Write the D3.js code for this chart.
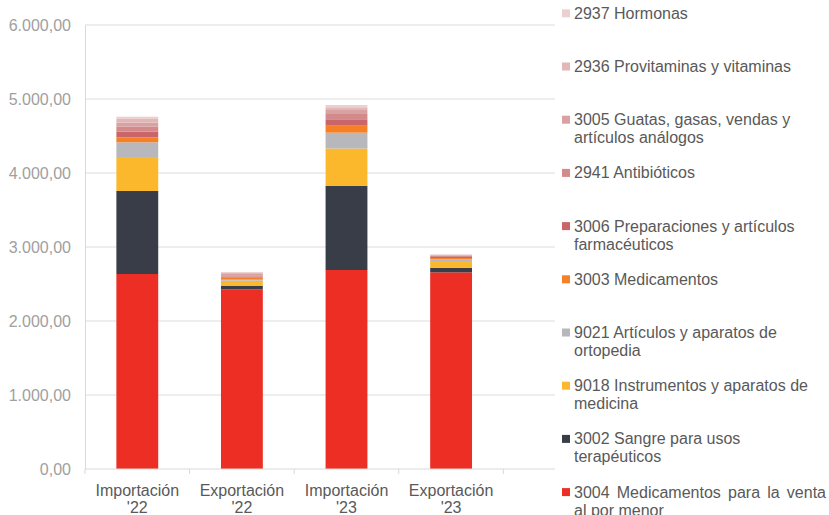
<!DOCTYPE html>
<html>
<head>
<meta charset="utf-8">
<script src="https://cdn.jsdelivr.net/npm/d3@7"></script>
<style>
  body { margin: 0; background: #fff; }
  svg { font-family: "Liberation Sans", Arial, sans-serif; }
</style>
</head>
<body>
<svg id="chart" width="829" height="515"></svg>
<script>
// categories on the x axis (two text lines each)
const categories = ["Importación '22", "Exportación '22", "Importación '23", "Exportación '23"];
const catLines = [["Importación", "'22"], ["Exportación", "'22"], ["Importación", "'23"], ["Exportación", "'23"]];

// series, bottom of the stack first
const seriesKeys = ["3004", "3002", "9018", "9021", "3003", "3006", "2941", "3005", "2936", "2937"];
const seriesColors = ["#ec2e24", "#393d47", "#fbb82c", "#b8b7bc", "#f68026", "#c9666a", "#d28a8a", "#d9a1a1", "#e2b7b7", "#ecd0d0"];

// values per category, same order as seriesKeys
const v3004 = [2635, 2428, 2689, 2658];
const v3002 = [1122, 45, 1139, 62];
const v9018 = [459, 72, 503, 91];
const v9021 = [199, 13, 214, 23];
const v3003 = [67, 33, 94, 17];
const v3006 = [76, 10, 87, 14];
const v2941 = [68, 17, 71, 13];
const v3005 = [54, 18, 54, 10];
const v2936 = [50, 13, 37, 7];
const v2937 = [31, 14, 31, 6];

// legend entries top to bottom, wrapped like the original
const legendOrder = ["2937", "2936", "3005", "2941", "3006", "3003", "9021", "9018", "3002", "3004"];
const legendLines = {
    "2937": ["2937 Hormonas"],
    "2936": ["2936 Provitaminas y vitaminas"],
    "3005": ["3005 Guatas, gasas, vendas y", "artículos análogos"],
    "2941": ["2941 Antibióticos"],
    "3006": ["3006 Preparaciones y artículos", "farmacéuticos"],
    "3003": ["3003 Medicamentos"],
    "9021": ["9021 Artículos y aparatos de", "ortopedia"],
    "9018": ["9018 Instrumentos y aparatos de", "medicina"],
    "3002": ["3002 Sangre para usos", "terapéuticos"],
    "3004": ["3004 Medicamentos para la venta", "al por menor"]
};

const yTicks = [0, 1000, 2000, 3000, 4000, 5000, 6000];

const allValues = [v3004, v3002, v9018, v9021, v3003, v3006, v2941, v3005, v2936, v2937];
const table = categories.map((c, i) => {
    let row = {cat: c};
    seriesKeys.forEach((k, j) => row[k] = allValues[j][i]);
    return row;
});

const svg = d3.select('#chart');
const plotLeft = 85, plotRight = 503.4, plotTop = 25, plotBottom = 469, gridRight = 555;

const x = d3.scaleBand().domain(categories).range([plotLeft, plotRight]).paddingInner(0.6).paddingOuter(0.3);
const y = d3.scaleLinear().domain([0, 6000]).range([plotBottom, plotTop]);
const color = d3.scaleOrdinal().domain(seriesKeys).range(seriesColors);

const fmt = d => {
    let s = d3.format(",.2f")(d);
    return s.replace(/,/g, "#").replace(".", ",").replace(/#/g, ".");
};

// gridlines
svg.append('g')
    .selectAll('line')
    .data(yTicks.filter(d => d > 0))
    .enter().append('line')
    .attr('x1', plotLeft).attr('x2', gridRight)
    .attr('y1', d => y(d)).attr('y2', d => y(d))
    .attr('stroke', '#dcdcdc').attr('stroke-width', 1);

// y axis
const yAxis = svg.append('g')
    .attr('transform', 'translate(' + plotLeft + ',0)')
    .call(d3.axisLeft(y).tickValues(yTicks).tickFormat(fmt).tickSize(0).tickPadding(14));
yAxis.select('.domain').attr('stroke', '#d9d9d9');
yAxis.selectAll('text')
    .attr('font-size', '16px')
    .attr('font-family', '"Liberation Sans", Arial, sans-serif')
    .attr('fill', '#a0a0a0');

// stacked bars
const stack = d3.stack().keys(seriesKeys);
const layers = stack(table);

svg.append('g')
    .selectAll('g')
    .data(layers)
    .enter().append('g')
    .attr('fill', d => color(d.key))
    .selectAll('rect')
    .data(d => d)
    .enter().append('rect')
    .attr('x', d => x(d.data.cat))
    .attr('width', x.bandwidth())
    .attr('y', d => y(d[1]))
    .attr('height', d => y(d[0]) - y(d[1]));

// x axis
const xAxis = svg.append('g')
    .attr('transform', 'translate(0,' + plotBottom + ')')
    .call(d3.axisBottom(x).tickSize(0).tickFormat(''));
xAxis.select('.domain').attr('stroke', '#d9d9d9').attr('d', 'M' + plotLeft + ',0H' + gridRight);

// tick marks between categories
svg.append('g')
    .selectAll('line')
    .data(categories.concat(['end']))
    .enter().append('line')
    .attr('x1', (d, i) => plotLeft + i * x.step())
    .attr('x2', (d, i) => plotLeft + i * x.step())
    .attr('y1', plotBottom).attr('y2', plotBottom + 5)
    .attr('stroke', '#d9d9d9');

// category labels
const catLabel = svg.append('g')
    .selectAll('text')
    .data(categories)
    .enter().append('text')
    .attr('x', d => x(d) + x.bandwidth() / 2)
    .attr('text-anchor', 'middle')
    .attr('font-size', '16px')
    .attr('fill', '#595959');
catLabel.append('tspan')
    .attr('x', d => x(d) + x.bandwidth() / 2)
    .attr('y', 496)
    .text((d, i) => catLines[i][0]);
catLabel.append('tspan')
    .attr('x', d => x(d) + x.bandwidth() / 2)
    .attr('y', 513)
    .text((d, i) => catLines[i][1]);

// legend
const legend = svg.append('g')
    .selectAll('g')
    .data(legendOrder)
    .enter().append('g')
    .attr('transform', (d, i) => 'translate(562,' + (13.3 + i * 53.2) + ')');

legend.append('rect')
    .attr('x', 0).attr('y', -4).attr('width', 8).attr('height', 8)
    .attr('fill', d => color(d));

legend.each(function(d) {
    let g = d3.select(this);
    legendLines[d].forEach((line, i) => {
        let t = g.append('text')
            .attr('x', 12)
            .attr('y', 5.5 + i * 18)
            .attr('font-size', '16px')
            .attr('fill', '#595959')
            .text(line);
        // the last entry is justified to the right edge in the original
        if (d === "3004" && i === 0) {
            let len = t.node().getComputedTextLength();
            let gaps = line.split(' ').length - 1;
            t.attr('word-spacing', ((252 - len) / gaps) + 'px');
        }
    });
});
</script>
</body>
</html>
